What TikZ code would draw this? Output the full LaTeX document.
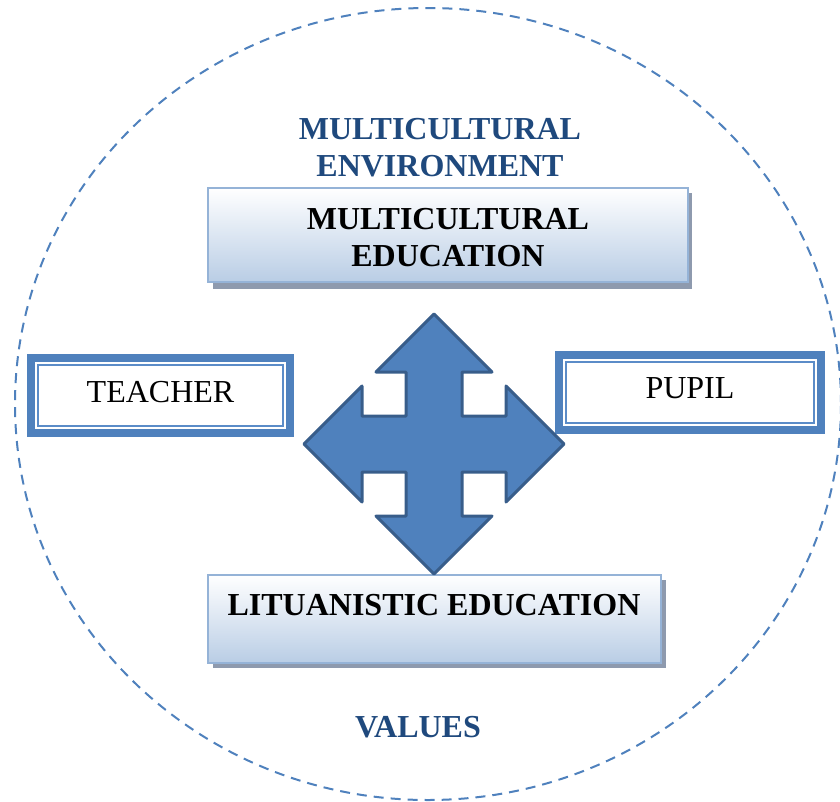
\documentclass[tikz,border=0pt]{standalone}
\usepackage{fontspec}
\setmainfont{Liberation Serif}
\definecolor{ringblue}{HTML}{4F81BD}
\definecolor{headblue}{HTML}{1F497D}
\definecolor{boxedge}{HTML}{95B3D7}
\definecolor{boxbottom}{HTML}{B9CDE5}
\definecolor{shadowgray}{HTML}{8E9AAE}
\definecolor{arrowfill}{HTML}{4F81BD}
\definecolor{arrowedge}{HTML}{385D8A}
\definecolor{innerline}{HTML}{5B8CC8}
\begin{document}
\begin{tikzpicture}[x=1pt,y=-1pt,
  headtext/.style={font=\fontsize{32}{37}\selectfont\bfseries, text=headblue, align=center, inner sep=0pt},
  boxtext/.style={font=\fontsize{32}{37}\selectfont\bfseries, text=black, align=center, inner sep=0pt},
  roletext/.style={font=\fontsize{32}{37}\selectfont, text=black, inner sep=0pt},
  gradbox/.style={draw=boxedge, line width=2pt, top color=white, bottom color=boxbottom, shading angle=0},
  shadowbox/.style={fill=shadowgray, draw=none},
  outerframe/.style={draw=ringblue, line width=8pt, fill=white},
  innerframe/.style={draw=innerline, line width=2pt}
]
\useasboundingbox (0,0) rectangle (840,801);
% dashed ring
\draw[ringblue, line width=2pt, dash pattern=on 10pt off 7pt] (428,404) ellipse [x radius=413, y radius=396];

% header labels
\node[headtext, anchor=base] (envA) at (440,139) {MULTICULTURAL};
\node[headtext, anchor=base] (envB) at (440,176) {ENVIRONMENT};
\node[headtext, anchor=base] (values) at (418,737) {VALUES};

% top box
\fill[shadowbox] (213,193) rectangle (692,289);
\path[gradbox] (208,188) rectangle (688,282);
\node[boxtext] (mce) at (448,237.5) {MULTICULTURAL\\EDUCATION};

% bottom box
\fill[shadowbox] (213,580) rectangle (666,668);
\path[gradbox] (208,575) rectangle (661,663);
\node[boxtext, anchor=base] (lit) at (434,615) {LITUANISTIC EDUCATION};

% teacher box
\draw[outerframe] (31,358) rectangle (290,433);
\draw[innerframe] (38,365) rectangle (283,426);
\node[roletext, anchor=base] (teacher) at (160.5,402) {TEACHER};

% pupil box
\draw[outerframe] (559,355) rectangle (821,430);
\draw[innerframe] (566,362) rectangle (814,423);
\node[roletext, anchor=base] (pupil) at (690,398) {PUPIL};

% four-way arrow
\begin{scope}[shift={(434,444)}]
\def\T{130}\def\B{72}\def\W{58}\def\S{28}
\draw[fill=arrowfill, draw=arrowedge, line width=3pt, line join=round]
  (0,-\T) -- (\W,-\B) -- (\S,-\B) -- (\S,-\S) -- (\B,-\S) -- (\B,-\W) -- (\T,0)
  -- (\B,\W) -- (\B,\S) -- (\S,\S) -- (\S,\B) -- (\W,\B) -- (0,\T)
  -- (-\W,\B) -- (-\S,\B) -- (-\S,\S) -- (-\B,\S) -- (-\B,\W) -- (-\T,0)
  -- (-\B,-\W) -- (-\B,-\S) -- (-\S,-\S) -- (-\S,-\B) -- (-\W,-\B) -- cycle;
\end{scope}
\end{tikzpicture}
\end{document}
